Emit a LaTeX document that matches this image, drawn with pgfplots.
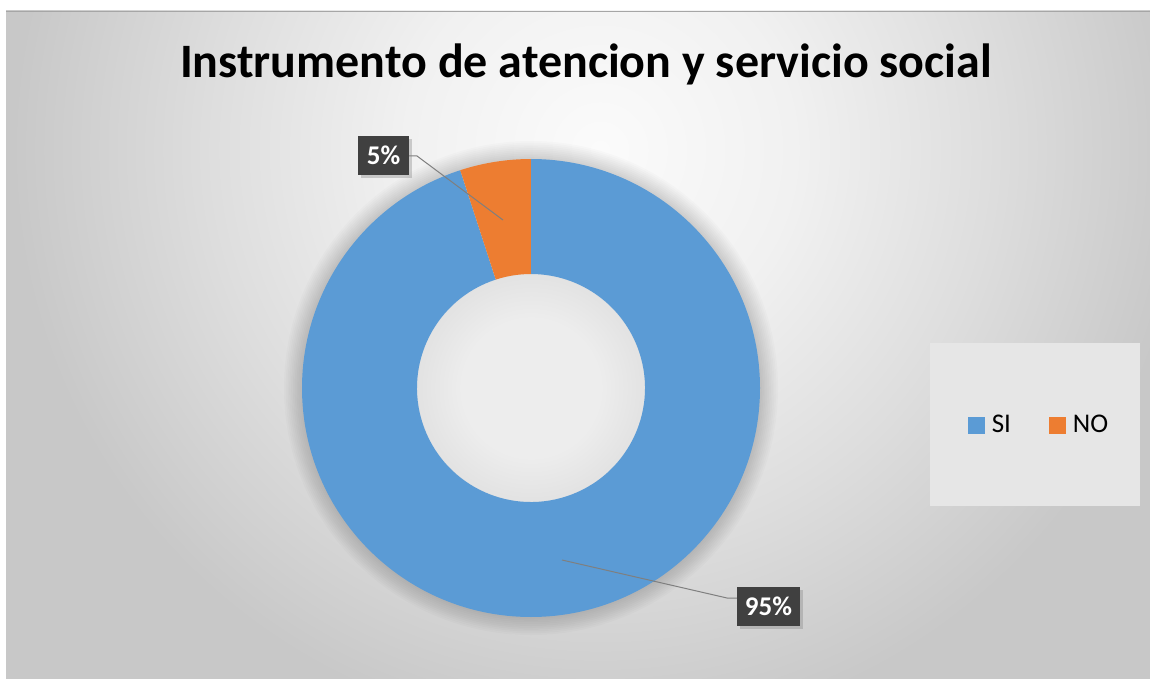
\documentclass[border=0pt]{standalone}
\usepackage{pgfplots}
\pgfplotsset{compat=1.18}
\usepackage{pgfplotstable}
\usepackage{fontspec}
\setmainfont{Carlito}
\usetikzlibrary{shadows}

\definecolor{siblue}{HTML}{5B9BD5}
\definecolor{noorange}{HTML}{ED7D31}
\definecolor{bggrey}{HTML}{C8C8C8}
\definecolor{bglight}{HTML}{FBFBFB}
\definecolor{labelbox}{HTML}{404040}
\definecolor{leader}{HTML}{7F7F7F}
\definecolor{legbox}{HTML}{E6E6E6}
\definecolor{holein}{HTML}{EDEDED}
\definecolor{holeout}{HTML}{E2E2E2}

\pgfplotstableread{
label value
SI 95
NO 5
}\donutdata

\pgfplotstablegetelem{0}{value}\of\donutdata
\let\valSI\pgfplotsretval
\pgfplotstablegetelem{1}{value}\of\donutdata
\let\valNO\pgfplotsretval
\pgfmathsetmacro\total{\valSI+\valNO}
\pgfmathsetmacro\aA{90}
\pgfmathsetmacro\aB{90-\valSI/\total*360}
\pgfmathsetmacro\aC{\aB-\valNO/\total*360}

\pgfdeclareradialshading{bgshade}{\pgfpoint{0bp}{0bp}}{color(0bp)=(bglight); color(7bp)=(bglight!80!bggrey); color(14bp)=(bglight!42!bggrey); color(21bp)=(bggrey); color(50bp)=(bggrey)}
\pgfdeclareradialshading{holeshade}{\pgfpoint{0bp}{0bp}}{color(0bp)=(holein); color(15bp)=(holein); color(25bp)=(holeout); color(50bp)=(holeout)}

\begin{document}
\begin{tikzpicture}
\begin{axis}[
  scale only axis, width=575pt, height=339.5pt,
  xmin=0, xmax=1150, ymin=0, ymax=679, y dir=reverse,
  hide axis, clip=false,
  legend columns=2,
  legend image code/.code={\fill[#1, draw=none] (0pt,-4.25pt) rectangle (8.5pt,4.25pt);},
  legend style={at={(axis cs:1040,425)}, anchor=center, draw=none, fill=none,
    font=\fontsize{13.5}{16}\selectfont,
    /tikz/every even column/.append style={column sep=17pt},
    /tikz/every odd column/.append style={column sep=1.5pt}},
]
% background
\fill[white] (axis cs:0,0) rectangle (axis cs:1150,679);
\begin{scope}
\clip (axis cs:6,11) rectangle (axis cs:1150,679);
\fill[bggrey] (axis cs:6,11) rectangle (axis cs:1150,679);
\shade[shading=bgshade] (axis cs:600,150) circle[radius=350pt];
\draw[gray!70, line width=0.6pt] (axis cs:6,11.5) -- (axis cs:1150,11.5);
\end{scope}
% halo around donut
\coordinate (C) at (axis cs:531,388);
\pgfplotsinvokeforeach{1,...,10}{
  \fill[black, opacity=0.014, even odd rule] (C) circle[radius=114.5pt+#1*0.9pt] (C) circle[radius=113pt];
}
% hole
\shade[shading=holeshade] (C) circle[radius=57.5pt];
% slices
\fill[siblue] ([shift={(\aA:114.5pt)}]C) arc[start angle=\aA, end angle=\aB, radius=114.5pt]
  -- ([shift={(\aB:57pt)}]C) arc[start angle=\aB, end angle=\aA, radius=57pt] -- cycle;
\fill[noorange] ([shift={(\aB:114.5pt)}]C) arc[start angle=\aB, end angle=\aC, radius=114.5pt]
  -- ([shift={(\aC:57pt)}]C) arc[start angle=\aC, end angle=\aB, radius=57pt] -- cycle;
% leader lines
\draw[leader, line width=0.5pt] (axis cs:409,156) -- (axis cs:417,156) -- (axis cs:503,220);
\draw[leader, line width=0.5pt] (axis cs:562,560) -- (axis cs:727,598) -- (axis cs:737,598);
% data labels
\node[fill=labelbox, text=white, font=\bfseries\fontsize{13.5}{16}\selectfont,
  minimum width=25.5pt, minimum height=19.5pt, inner sep=0pt,
  drop shadow={opacity=0.35, shadow xshift=1.5pt, shadow yshift=-1.5pt}]
  at (axis cs:383.5,155.5) {5\%};
\node[fill=labelbox, text=white, font=\bfseries\fontsize{13.5}{16}\selectfont,
  minimum width=31.5pt, minimum height=19.5pt, inner sep=0pt,
  drop shadow={opacity=0.35, shadow xshift=1.5pt, shadow yshift=-1.5pt}]
  at (axis cs:768.5,606.5) {95\%};
% title
\node[font=\bfseries\fontsize{24}{28}\selectfont, anchor=base]
  at (axis cs:586,78) {Instrumento de atencion y servicio social};
% legend box
\fill[legbox] (axis cs:930,343) rectangle (axis cs:1140,506);
\addlegendimage{fill=siblue}
\addlegendentry{SI}
\addlegendimage{fill=noorange}
\addlegendentry{NO}
\end{axis}
\end{tikzpicture}
\end{document}
